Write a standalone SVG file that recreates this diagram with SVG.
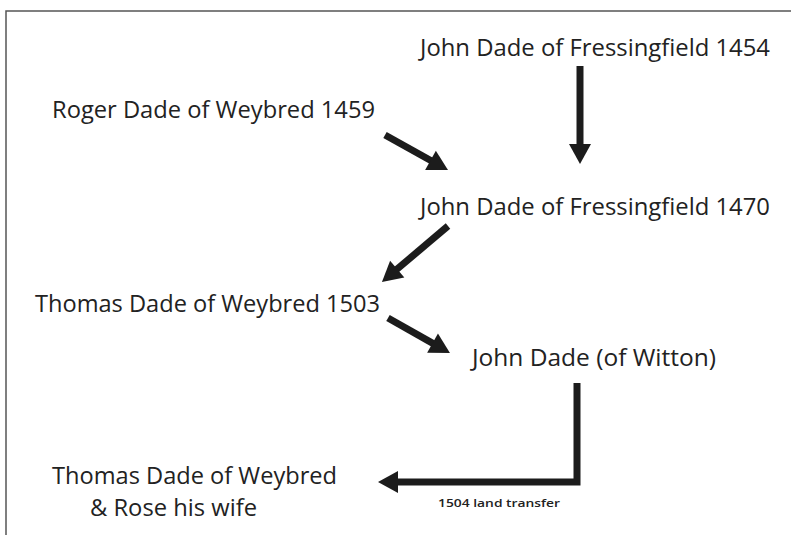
<svg xmlns="http://www.w3.org/2000/svg" width="791" height="535" viewBox="0 0 791 535">
<style>
.t{font-family:"Open Sans","Noto Sans","Liberation Sans",sans-serif;font-size:24px;fill:#222}
.s{font-family:"Open Sans","Noto Sans","Liberation Sans",sans-serif;font-size:10.5px;font-weight:600;fill:#222}
.a{stroke:#1c1c1c;stroke-width:7;fill:none;marker-end:url(#h)}
</style>
<defs>
<marker id="h" markerUnits="userSpaceOnUse" markerWidth="20" markerHeight="22" refX="8" refY="11" orient="auto" overflow="visible">
<path d="M0,0 L20,11 L0,22 z" fill="#1c1c1c"/>
</marker>
</defs>
<rect width="791" height="535" fill="#fff"/>
<path d="M6,535 V11 H791" stroke="#555" stroke-width="1.5" fill="none"/>
<g id="n1"><text class="t" x="420" y="56" textLength="350" lengthAdjust="spacingAndGlyphs">John Dade of Fressingfield 1454</text></g>
<g id="n2"><text class="t" x="52" y="118" textLength="323" lengthAdjust="spacingAndGlyphs">Roger Dade of Weybred 1459</text></g>
<g id="n3"><text class="t" x="420" y="215" textLength="350" lengthAdjust="spacingAndGlyphs">John Dade of Fressingfield 1470</text></g>
<g id="n4"><text class="t" x="35" y="312" textLength="345" lengthAdjust="spacingAndGlyphs">Thomas Dade of Weybred 1503</text></g>
<g id="n5"><text class="t" x="472" y="366" textLength="244" lengthAdjust="spacingAndGlyphs">John Dade (of Witton)</text></g>
<g id="n6"><text class="t" x="52" y="484" textLength="285" lengthAdjust="spacingAndGlyphs">Thomas Dade of Weybred</text><text class="t" x="90" y="516" textLength="167" lengthAdjust="spacingAndGlyphs">&amp; Rose his wife</text></g>
<g id="connectors">
<line class="a" x1="580" y1="66" x2="580" y2="152"/>
<line class="a" x1="385" y1="135" x2="437.5" y2="164.2"/>
<line class="a" x1="448" y1="226" x2="391.1" y2="274.2"/>
<line class="a" x1="388" y1="318" x2="439.5" y2="347.1"/>
<path class="a" d="M577,383 V482 H390"/>
<text class="s" x="438" y="507" textLength="122" lengthAdjust="spacingAndGlyphs">1504 land transfer</text>
</g>
</svg>
